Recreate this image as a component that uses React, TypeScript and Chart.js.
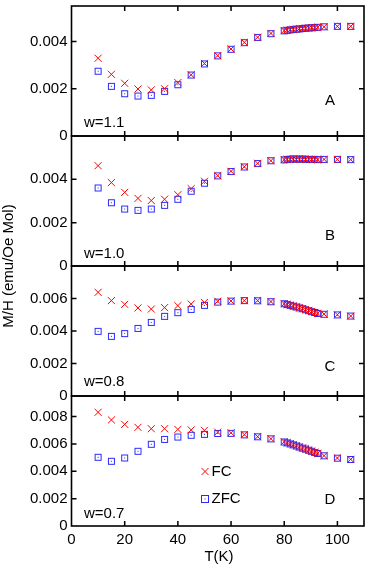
import React, { useEffect, useRef } from 'react';
import { Chart, registerables } from 'chart.js';

Chart.register(...registerables);

// ---- data ----
const temperatures = [
  10, 15, 20, 25, 30, 35, 40, 45, 50, 55, 60, 65, 70, 75,
  80, 81.1, 82.3, 83.4, 84.6, 85.7, 86.9, 88, 89.2, 90.3, 91.5, 92.6,
  95, 100, 105,
];

const fcA = [
  0.00329, 0.00261, 0.00223, 0.00199, 0.00195, 0.00200, 0.00226, 0.00259, 0.00307, 0.00340, 0.00368, 0.00396, 0.00418, 0.00434,
  0.00446, 0.00448, 0.00450, 0.00451, 0.00452, 0.00454, 0.00455, 0.00456, 0.00457, 0.00458, 0.00459, 0.00460,
  0.00462, 0.00464, 0.00464,
];
const zfcA = [
  0.00274, 0.00210, 0.00179, 0.00169, 0.00172, 0.00189, 0.00217, 0.00258, 0.00305, 0.00339, 0.00367, 0.00395, 0.00417, 0.00433,
  0.00445, 0.00447, 0.00449, 0.00451, 0.00452, 0.00453, 0.00455, 0.00456, 0.00457, 0.00458, 0.00459, 0.00460,
  0.00462, 0.00464, 0.00464,
];
const fcB = [
  0.00463, 0.00385, 0.00340, 0.00312, 0.00302, 0.00308, 0.00329, 0.00357, 0.00391, 0.00417, 0.00437, 0.00458, 0.00474, 0.00486,
  0.00491, 0.00492, 0.00492, 0.00493, 0.00492, 0.00493, 0.00492, 0.00492, 0.00493, 0.00492, 0.00492, 0.00491,
  0.00492, 0.00492, 0.00491,
];
const zfcB = [
  0.00360, 0.00292, 0.00263, 0.00257, 0.00263, 0.00280, 0.00308, 0.00345, 0.00382, 0.00416, 0.00436, 0.00457, 0.00473, 0.00486,
  0.00490, 0.00492, 0.00493, 0.00494, 0.00493, 0.00494, 0.00493, 0.00493, 0.00492, 0.00492, 0.00492, 0.00491,
  0.00492, 0.00492, 0.00491,
];
const fcC = [
  0.00638, 0.00587, 0.00564, 0.00542, 0.00535, 0.00544, 0.00556, 0.00566, 0.00576, 0.00583, 0.00585, 0.00587, 0.00587, 0.00581,
  0.00568, 0.00564, 0.00559, 0.00554, 0.00549, 0.00543, 0.00537, 0.00531, 0.00526, 0.00520, 0.00514, 0.00509,
  0.00504, 0.00500, 0.00492,
];
const zfcC = [
  0.00398, 0.00367, 0.00384, 0.00416, 0.00453, 0.00490, 0.00513, 0.00533, 0.00558, 0.00578, 0.00584, 0.00587, 0.00586, 0.00580,
  0.00568, 0.00563, 0.00558, 0.00553, 0.00548, 0.00542, 0.00537, 0.00531, 0.00525, 0.00519, 0.00514, 0.00508,
  0.00503, 0.00499, 0.00492,
];
const fcD = [
  0.00831, 0.00775, 0.00743, 0.00721, 0.00711, 0.00711, 0.00706, 0.00702, 0.00699, 0.00686, 0.00681, 0.00668, 0.00653, 0.00638,
  0.00616, 0.00609, 0.00601, 0.00594, 0.00586, 0.00578, 0.00570, 0.00563, 0.00555, 0.00547, 0.00539, 0.00531,
  0.00514, 0.00497, 0.00487,
];
const zfcD = [
  0.00502, 0.00473, 0.00497, 0.00546, 0.00597, 0.00633, 0.00650, 0.00663, 0.00670, 0.00676, 0.00677, 0.00666, 0.00652, 0.00637,
  0.00614, 0.00607, 0.00600, 0.00593, 0.00585, 0.00577, 0.00569, 0.00562, 0.00554, 0.00546, 0.00538, 0.00530,
  0.00513, 0.00496, 0.00486,
];

const panelIds = ['yA', 'yB', 'yC', 'yD'];
const panelMax = [0.0055, 0.006, 0.008, 0.0095];
const yTicksA = [0, 0.002, 0.004];
const yTicksB = [0, 0.002, 0.004];
const yTicksC = [0, 0.002, 0.004, 0.006];
const yTicksD = [0, 0.002, 0.004, 0.006, 0.008];
const xTicks = [0, 20, 40, 60, 80, 100];
const xMin = 0;
const xMax = 110;
const panelLetters = ['A', 'B', 'C', 'D'];
const panelW = ['w=1.1', 'w=1.0', 'w=0.8', 'w=0.7'];
const seriesNames = ['FC', 'ZFC'];
const xTitle = 'T(K)';
const yTitle = 'M/H (emu/Oe Mol)';

// ---- styling ----
const FONT_FAMILY = '"Liberation Sans", Arial, Helvetica, sans-serif';
const FONT = `15px ${FONT_FAMILY}`;
const RED = '#ff0000';
const BLUE = '#2a2aff';

const letterPos = [
  { x: 330, y: 105 },
  { x: 330, y: 239.5 },
  { x: 330, y: 371 },
  { x: 330, y: 504 },
];
const wPos = [
  { x: 84, y: 127 },
  { x: 84, y: 257.5 },
  { x: 84, y: 385.5 },
  { x: 84, y: 518 },
];

const fcSets = [fcA, fcB, fcC, fcD];
const zfcSets = [zfcA, zfcB, zfcC, zfcD];
const yTickSets = [yTicksA, yTicksB, yTicksC, yTicksD];

function pts(ys: number[]) {
  return temperatures.map((t, i) => ({ x: t, y: ys[i] }));
}

function zeroPad(s: any) {
  s.paddingTop = 0;
  s.paddingBottom = 0;
  s.paddingLeft = 0;
  s.paddingRight = 0;
}

// square marker with a centre dot (gnuplot style)
function makeSquareDot(): HTMLCanvasElement {
  const c = document.createElement('canvas');
  c.width = 9;
  c.height = 9;
  const g = c.getContext('2d')!;
  g.strokeStyle = BLUE;
  g.lineWidth = 1;
  g.strokeRect(1.5, 1.5, 6, 6);
  g.fillStyle = BLUE;
  g.fillRect(4, 4, 1, 1);
  return c;
}

const decorPlugin = {
  id: 'decor',
  afterDraw(chart: any) {
    const ctx: CanvasRenderingContext2D = chart.ctx;
    const { left, right } = chart.chartArea;
    const xs = chart.scales.x;
    ctx.save();
    ctx.strokeStyle = '#000';
    const tl = 5;
    panelIds.forEach((id) => {
      const s = chart.scales[id];
      ctx.lineWidth = 1.5;
      ctx.beginPath();
      s.ticks.forEach((t: any) => {
        if (t.value <= 0) return;
        const y = s.getPixelForValue(t.value);
        ctx.moveTo(left, y);
        ctx.lineTo(left + tl, y);
        ctx.moveTo(right, y);
        ctx.lineTo(right - tl, y);
      });
      xs.ticks.forEach((t: any) => {
        if (t.value <= xMin) return;
        const x = xs.getPixelForValue(t.value);
        ctx.moveTo(x, s.top);
        ctx.lineTo(x, s.top + tl);
        ctx.moveTo(x, s.bottom);
        ctx.lineTo(x, s.bottom - tl);
      });
      ctx.stroke();
      ctx.lineWidth = 1.6;
      ctx.strokeRect(left, s.top, right - left, s.bottom - s.top);
    });

    ctx.fillStyle = '#000';
    ctx.font = FONT;
    ctx.textBaseline = 'alphabetic';
    panelIds.forEach((_, i) => {
      ctx.textAlign = 'center';
      ctx.fillText(panelLetters[i], letterPos[i].x, letterPos[i].y);
      ctx.textAlign = 'left';
      ctx.fillText(panelW[i], wPos[i].x, wPos[i].y);
    });

    // legend inside panel D
    ctx.textAlign = 'left';
    ctx.fillText(seriesNames[0], 211.5, 475.5);
    ctx.fillText(seriesNames[1], 211.5, 503);
    ctx.lineWidth = 1;
    ctx.strokeStyle = RED;
    ctx.beginPath();
    const cx = 205, cy = 471.5, h = 3.5;
    ctx.moveTo(cx - h, cy - h); ctx.lineTo(cx + h, cy + h);
    ctx.moveTo(cx - h, cy + h); ctx.lineTo(cx + h, cy - h);
    ctx.stroke();
    ctx.strokeStyle = BLUE;
    ctx.strokeRect(201.5, 495.5, 7, 7);
    ctx.fillStyle = BLUE;
    ctx.fillRect(204.5, 498.5, 1, 1);

    // axis titles
    ctx.fillStyle = '#000';
    ctx.textAlign = 'center';
    ctx.fillText(xTitle, 219, 561);
    ctx.save();
    ctx.translate(12.5, 266);
    ctx.rotate(-Math.PI / 2);
    ctx.fillText(yTitle, 0, 0);
    ctx.restore();

    ctx.restore();
  },
};

export default function App() {
  const ref = useRef<HTMLCanvasElement | null>(null);

  useEffect(() => {
    if (!ref.current) return;
    const squareDot = makeSquareDot();
    const datasets: any[] = [];
    panelIds.forEach((id, i) => {
      datasets.push({
        label: `${seriesNames[0]} ${panelW[i]}`,
        data: pts(fcSets[i]),
        yAxisID: id,
        xAxisID: 'x',
        pointStyle: 'crossRot',
        pointRadius: 5,
        pointBorderWidth: 1,
        borderColor: RED,
        backgroundColor: RED,
        showLine: false,
      });
    });
    panelIds.forEach((id, i) => {
      datasets.push({
        label: `${seriesNames[1]} ${panelW[i]}`,
        data: pts(zfcSets[i]),
        yAxisID: id,
        xAxisID: 'x',
        pointStyle: squareDot,
        pointRadius: 5,
        pointBorderWidth: 1,
        borderColor: BLUE,
        backgroundColor: 'rgba(0,0,0,0)',
        showLine: false,
      });
    });

    const scales: any = {
      x: {
        type: 'linear',
        position: 'bottom',
        min: xMin,
        max: xMax,
        grid: { display: false, drawTicks: false },
        border: { display: false },
        afterBuildTicks: (s: any) => {
          s.ticks = xTicks.map((v) => ({ value: v }));
        },
        afterFit: (s: any) => {
          s.height = 43;
          zeroPad(s);
        },
        ticks: {
          color: '#000',
          font: { family: FONT_FAMILY, size: 15 },
          padding: 5,
          maxRotation: 0,
          autoSkip: false,
        },
      },
    };
    panelIds.forEach((id, i) => {
      scales[id] = {
        type: 'linear',
        position: 'left',
        stack: 'panels',
        stackWeight: 1,
        weight: 4 - i,
        min: 0,
        max: panelMax[i],
        grid: { display: false, drawTicks: false },
        border: { display: false },
        afterBuildTicks: (s: any) => {
          s.ticks = yTickSets[i].map((v) => ({ value: v }));
        },
        afterFit: (s: any) => {
          s.width = 71.5;
          zeroPad(s);
        },
        ticks: {
          color: '#000',
          font: { family: FONT_FAMILY, size: 15 },
          padding: 4,
          autoSkip: false,
          callback: (v: any) => (Number(v) === 0 ? '0' : Number(v).toFixed(3)),
        },
      };
    });

    const chart = new Chart(ref.current, {
      type: 'scatter',
      data: { datasets },
      options: {
        responsive: false,
        animation: false,
        devicePixelRatio: 1,
        events: [],
        layout: { padding: { top: 6, right: 7, bottom: 0, left: 0 } },
        plugins: { legend: { display: false }, tooltip: { enabled: false } },
        scales,
      } as any,
      plugins: [decorPlugin],
    });
    return () => chart.destroy();
  }, []);

  return (
    <div style={{ position: 'fixed', left: 0, top: 0, width: 371, height: 569, background: '#fff' }}>
      <canvas ref={ref} width={371} height={569} style={{ width: 371, height: 569, display: 'block' }} />
    </div>
  );
}
